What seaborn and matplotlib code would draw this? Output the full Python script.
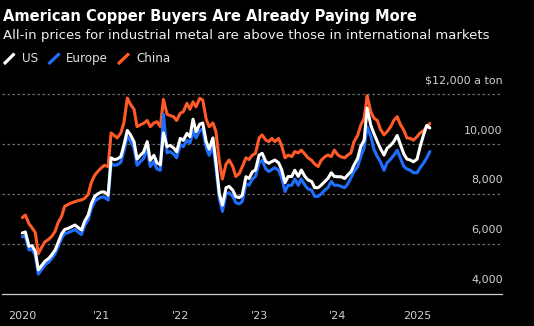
import matplotlib
matplotlib.use("Agg")
import matplotlib.pyplot as plt
from matplotlib.lines import Line2D
import pandas as pd
import seaborn as sns

# ---- data (semi-monthly readings, $ per ton) ----
dates = pd.date_range("2020-01-01", periods=125, freq="SMS")

china = [
    7050, 7150, 6800, 6640, 6450, 5600, 5880, 6080, 6170, 6280,
    6500, 6850, 7100, 7500, 7580, 7640, 7690, 7730, 7760, 7820,
    7980, 8450, 8750, 8900, 9050, 9150, 9100, 10450, 10350, 10250,
    10450, 10850, 11850, 11600, 11400, 10700, 10780, 10830, 10950, 10700,
    10850, 10900, 10700, 11800, 11200, 11150, 11100, 10950,
    11240, 11300, 11640, 11400, 11700, 11500, 11840, 11770, 11000, 10700,
    10850, 10500, 9300, 8600, 9200, 9360, 9100, 8700, 8820, 9090,
    9450, 9380, 9560, 9630, 10250, 10370, 10160, 10100, 10230, 10100,
    10230, 9950, 9450, 9560, 9500, 9700, 9650, 9760, 9600, 9450,
    9350, 9200, 9100, 9350, 9490, 9560, 9500, 9760, 9560, 9490,
    9450, 9560, 9650, 10100, 10350, 10750, 11050, 11950, 11300, 11050,
    10950, 10600, 10370, 10500, 10700, 10950, 11100, 10800, 10550, 10250,
    10230, 10160, 10300, 10450, 10550, 10700, 10830,
]

us = [
    6430, 6470, 5900, 5920, 5700, 4950, 5140, 5300, 5400, 5540,
    5750, 6050, 6400, 6570, 6620, 6680, 6750, 6650, 6550, 6900,
    7150, 7600, 7900, 8000, 8080, 8080, 7950, 9450, 9380, 9400,
    9500, 9950, 10550, 10380, 10100, 9400, 9560, 9680, 10100, 9350,
    9550, 9250, 9170, 10450, 9900, 9950, 9850, 9690,
    10230, 10150, 10430, 10300, 11000, 10500, 10800, 10850, 10100, 9800,
    10250, 9300, 8000, 7550, 8250, 8300, 8150, 7890, 7850, 7950,
    8690, 8620, 8890, 8960, 9560, 9630, 9300, 9230, 9300, 9360,
    9250, 8980, 8450, 8700, 8700, 8950, 8700, 8960, 8700, 8560,
    8500, 8250, 8250, 8350, 8500, 8620, 8850, 8700, 8690, 8690,
    8620, 8760, 8890, 9160, 9430, 9900, 10160, 11450, 10750, 10430,
    10100, 9830, 9560, 9830, 9960, 10100, 10350, 10000, 9600, 9400,
    9360, 9290, 9400, 9900, 10400, 10750, 10650,
]

europe = [
    6280, 6300, 5750, 5770, 5550, 4780, 4980, 5150, 5250, 5390,
    5600, 5880, 6230, 6400, 6450, 6500, 6570, 6470, 6370, 6720,
    6960, 7400, 7700, 7800, 7870, 7870, 7750, 9220, 9150, 9170,
    9270, 9720, 10300, 10130, 9850, 9150, 9300, 9420, 9850, 9100,
    9300, 9000, 8950, 11200, 9650, 9700, 9600, 9450,
    9980, 9900, 10150, 10050, 10500, 10250, 10550, 10600, 9850, 9550,
    9950, 9050, 7800, 7300, 8000, 8050, 7900, 7650, 7600, 7700,
    8400, 8350, 8600, 8700, 9250, 9350, 9000, 8900, 8980, 9050,
    8950, 8650, 8100, 8350, 8350, 8600, 8350, 8600, 8350, 8200,
    8150, 7900, 7900, 8000, 8150, 8250, 8500, 8350, 8350, 8300,
    8250, 8400, 8650, 8900, 9100, 9500, 9850, 10700, 10300, 9800,
    9500, 9300, 8950, 9250, 9400, 9550, 9750, 9450, 9100, 9000,
    8950, 8850, 8850, 9050, 9250, 9450, 9700,
]

series_names = ["US", "Europe", "China"]
colors = {"US": "#ffffff", "Europe": "#1f6fff", "China": "#ff5a28"}

year_ticks = ["2020-01-01", "2021-01-01", "2022-01-01", "2023-01-01", "2024-01-01", "2025-01-01"]
year_labels = ["2020", "'21", "'22", "'23", "'24", "2025"]
y_grid = [6000, 8000, 10000, 12000]
y_label_vals = [4000, 6000, 8000, 10000, 12000]
y_labels = ["4,000", "6,000", "8,000", "10,000", "$12,000 a ton"]

title = "American Copper Buyers Are Already Paying More"
subtitle = "All-in prices for industrial metal are above those in international markets"

# ---- styling ----
sns.set_theme(style="dark")
plt.rcParams["font.family"] = ["DejaVu Sans"]

W, H = 534, 326
fig = plt.figure(figsize=(W / 100, H / 100), dpi=100, facecolor="black")


def fx(px):
    return px / W


def fy(py):
    return 1 - py / H


ax = fig.add_axes([fx(2), fy(293.5), fx(500), (293.5 - 79.4) / H])
ax.set_facecolor("black")

df = pd.DataFrame({"date": dates, "US": us, "Europe": europe, "China": china})
long = df.melt(id_vars="date", var_name="region", value_name="price")

sns.lineplot(data=long, x="date", y="price", hue="region",
             hue_order=["China", "Europe", "US"], palette=colors,
             linewidth=2.2, legend=False, ax=ax)

ax.set_ylim(4000, 12600)
ax.set_xlim(pd.Timestamp("2019-09-29"), pd.Timestamp("2026-01-29"))

for v in y_grid:
    ax.axhline(v, color="#6e6e6e", lw=0.9, ls=(0, (2, 2)), zorder=0)

for v, lab in zip(y_label_vals, y_labels):
    ax.annotate(lab, xy=(1.0, v), xycoords=("axes fraction", "data"),
                xytext=(0.5, 9.8), textcoords="offset points",
                ha="right", va="center", color="#d0d0d0", fontsize=8)

ax.set_yticks([])
ax.set_xticks([pd.Timestamp(t) for t in year_ticks])
ax.set_xticklabels(year_labels)
ax.tick_params(axis="x", direction="out", length=4.3, width=0.9, color="#bbbbbb",
               labelcolor="#d0d0d0", labelsize=8, pad=8.2)
ax.set_xlabel("")
ax.set_ylabel("")
ax.grid(False)
for s in ["top", "left", "right"]:
    ax.spines[s].set_visible(False)
ax.spines["bottom"].set_color("#cfcfcf")
ax.spines["bottom"].set_linewidth(0.9)

# ---- title, subtitle ----
fig.text(fx(3), fy(17), title, color="white", fontsize=10.55, fontweight="bold",
         ha="left", va="center")
fig.text(fx(3), fy(35.2), subtitle, color="#f0f0f0", fontsize=9.55,
         ha="left", va="center")

# ---- legend ----
legend_items = [("US", 4, 14.5, 22), ("Europe", 48.5, 59.5, 65.5), ("China", 118, 129, 136)]
for name, x0, x1, tx in legend_items:
    fig.add_artist(Line2D([fx(x0), fx(x1)], [fy(64), fy(53.5)],
                          transform=fig.transFigure, color=colors[name],
                          lw=2.3, solid_capstyle="butt"))
    fig.text(fx(tx), fy(58.7), name, color="#e0e0e0", fontsize=8.6,
             ha="left", va="center")

fig.savefig("out.png", dpi=100, facecolor="black")
